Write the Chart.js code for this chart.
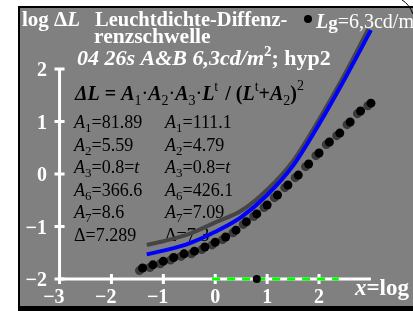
<!DOCTYPE html>
<html>
<head>
<meta charset="utf-8">
<script src="https://cdn.jsdelivr.net/npm/chart.js@4.4.0/dist/chart.umd.min.js"></script>
<style>
html,body{margin:0;padding:0;background:#fff;}
canvas{display:block;}
</style>
</head>
<body>
<canvas id="c" width="413" height="311"></canvas>
<script>
// ---- data ----
const xTicks = [-3, -2, -1, 0, 1, 2];
const yTicks = [-2, -1, 0, 1, 2];
const xTickLabels = ["\u22123", "\u22122", "\u22121", "0", "1", "2"];
const yTickLabels = ["\u22122", "\u22121", "0", "1", "2"];

const dotX = [-1.4,-1.2,-1.0,-0.8,-0.6,-0.4,-0.2,0,0.2,0.4,0.6,0.8,1.0,1.2,1.4,1.6,1.8,2.0,2.2,2.4,2.6,2.8,3.0];
const dotY = [-1.79,-1.73,-1.66,-1.59,-1.52,-1.47,-1.39,-1.30,-1.20,-1.07,-0.91,-0.76,-0.59,-0.40,-0.21,-0.02,0.19,0.40,0.61,0.78,0.99,1.20,1.35];
const shadowX = [-1.46,-1.26,-1.06,-0.86,-0.66,-0.46,-0.26,-0.06,0.14,0.34,0.54,0.74,0.94,1.14,1.34,1.54,1.74,1.94,2.14,2.34,2.54,2.74,2.94];
const shadowY = [-1.84,-1.78,-1.71,-1.64,-1.57,-1.52,-1.44,-1.35,-1.25,-1.12,-0.96,-0.81,-0.64,-0.45,-0.26,-0.07,0.14,0.35,0.56,0.73,0.94,1.15,1.30];

const blueX = [-1.32,-1.0,-0.5,0,0.5,1.0,1.5,2.0,2.5,3.0];
const blueY = [-1.53,-1.46,-1.32,-1.10,-0.82,-0.40,0.16,0.95,1.82,2.74];
const grayX = [-1.32,-1.0,-0.5,0,0.5,1.0,1.5,2.0,2.5,2.95];
const grayY = [-1.35,-1.28,-1.14,-0.92,-0.70,-0.30,0.25,1.04,1.91,2.76];

const refX = [0.8];
const refY = [-2];

const greenFrom = -0.06, greenTo = 2.38;

const paramsLeft = [
  ["A","1","=81.89"],["A","2","=5.59"],["A","3","=0.8=","t"],["A","6","=366.6"],["A","7","=8.6"],["\u0394","","=7.289"]
];
const paramsRight = [
  ["A","1","=111.1"],["A","2","=4.79"],["A","3","=0.8=","t"],["A","6","=426.1"],["A","7","=7.09"],["\u0394","","=7.3"]
];

const pts = (xs, ys) => xs.map((x, i) => ({x, y: ys[i]}));

const SERIF = "'Liberation Serif','Times New Roman',serif";
function F(style, size){ return style + " " + size + "px " + SERIF; }

function runs(ctx, x, y, list, color){
  ctx.textAlign = "left";
  ctx.textBaseline = "alphabetic";
  let cx = x;
  for (const r of list){
    ctx.font = r.f;
    ctx.fillStyle = r.c || color;
    ctx.fillText(r.t, cx, y + (r.dy || 0));
    cx += ctx.measureText(r.t).width + (r.sp || 0);
  }
  return cx;
}

const deco = {
  id: 'deco',
  beforeDraw(chart){
    const ctx = chart.ctx;
    ctx.save();
    ctx.fillStyle = "#ffffff";
    ctx.fillRect(0,0,413,311);
    ctx.fillStyle = "#000000";
    ctx.fillRect(18,6,395,305);
    ctx.fillStyle = "#808080";
    ctx.fillRect(20,8,393,298);
    // corner arc
    ctx.strokeStyle = "#000";
    ctx.lineWidth = 1;
    ctx.beginPath();
    ctx.moveTo(402,0);
    ctx.quadraticCurveTo(409,4,413,14);
    ctx.stroke();
    ctx.restore();
  },
  beforeDatasetsDraw(chart){
    const ctx = chart.ctx;
    const xs = chart.scales.x, ys = chart.scales.y;
    ctx.save();
    // axes
    ctx.strokeStyle = "#ffffff";
    ctx.lineWidth = 3;
    const x0 = xs.getPixelForValue(-3), x1 = xs.getPixelForValue(3);
    const y0 = ys.getPixelForValue(-2), y1 = ys.getPixelForValue(2);
    ctx.beginPath();
    ctx.moveTo(x0, y0); ctx.lineTo(x1, y0);
    ctx.moveTo(x0, y0); ctx.lineTo(x0, y1);
    ctx.stroke();
    ctx.beginPath();
    yTicks.forEach(v => { const p = ys.getPixelForValue(v); ctx.moveTo(x0-5,p); ctx.lineTo(x0+5,p); });
    xTicks.forEach(v => { const p = xs.getPixelForValue(v); ctx.moveTo(p,y0-5); ctx.lineTo(p,y0+5); });
    ctx.stroke();
    // green dashed segment
    ctx.strokeStyle = "#00ff00";
    ctx.setLineDash([8,7]);
    ctx.beginPath();
    ctx.moveTo(xs.getPixelForValue(greenFrom), y0);
    ctx.lineTo(xs.getPixelForValue(greenTo), y0);
    ctx.stroke();
    ctx.setLineDash([]);

    // tick labels
    ctx.fillStyle = "#fff";
    ctx.font = F("bold", 20);
    ctx.textBaseline = "alphabetic";
    ctx.textAlign = "right";
    yTicks.forEach((v,i) => { ctx.fillText(yTickLabels[i], 47, ys.getPixelForValue(v)+7); });
    xTicks.forEach((v,i) => {
      const p = xs.getPixelForValue(v);
      const lab = xTickLabels[i];
      const digit = lab.replace("\u2212","");
      const w = ctx.measureText(digit).width;
      ctx.textAlign = "center";
      ctx.fillText(digit, p, 303);
      if (lab !== digit){ ctx.textAlign = "right"; ctx.fillText("\u2212", p - w/2, 303); }
    });
    // axis title x
    runs(ctx, 355, 295, [
      {t:"x", f:F("italic bold",23)}, {t:"=log ", f:F("bold",23)}, {t:"L", f:F("italic bold",23)}
    ], "#fff");
    // title
    runs(ctx, 22, 26, [{t:"log \u0394", f:F("bold",21)}, {t:"L", f:F("italic bold",21)}], "#fff");
    runs(ctx, 95, 26, [{t:"Leuchtdichte-Diffenz-", f:F("bold",20.5)}], "#fff");
    runs(ctx, 94, 43, [{t:"renzschwelle", f:F("bold",21.5)}], "#fff");
    // legend
    ctx.fillStyle = "#000";
    ctx.beginPath(); ctx.arc(308,19,4,0,Math.PI*2); ctx.fill();
    runs(ctx, 316, 28, [
      {t:"L", f:F("italic bold",20)}, {t:"g", f:F("bold",19), dy:1}, {t:"=6,3cd/m", f:F("normal",20)}
    ], "#fff");
    // line 3
    runs(ctx, 77, 65, [
      {t:"04 26s A&B 6,3cd/m", f:F("italic bold",22)},
      {t:"2", f:F("bold",15), dy:-9},
      {t:"; hyp2", f:F("bold",22)}
    ], "#fff");
    // equation
    const BI = F("italic bold",20), SUB = F("normal",14), R = F("normal",20), B = F("bold",20);
    runs(ctx, 75, 100, [
      {t:"\u0394L", f:BI}, {t:" = ", f:B}, {t:"A", f:BI}, {t:"1", f:SUB, dy:5},
      {t:"\u00b7", f:R}, {t:"A", f:BI}, {t:"2", f:SUB, dy:5},
      {t:"\u00b7", f:R}, {t:"A", f:BI}, {t:"3", f:SUB, dy:5},
      {t:"\u00b7", f:R}, {t:"L", f:BI}, {t:"t", f:SUB, dy:-9, sp:2},
      {t:" / (", f:B}, {t:"L", f:BI}, {t:"t", f:SUB, dy:-9},
      {t:"+", f:B}, {t:"A", f:BI}, {t:"2", f:SUB, dy:5}, {t:")", f:B}, {t:"2", f:SUB, dy:-10}
    ], "#000");
    // parameter table
    const base = [128, 150.5, 173, 195.5, 218, 240.5];
    const drawRow = (x, y, r) => {
      const list = [];
      if (r[0] === "A") list.push({t:"A", f:F("italic",18)}); else list.push({t:r[0], f:F("normal",18)});
      if (r[1]) list.push({t:r[1], f:F("normal",13), dy:4});
      list.push({t:r[2], f:F("normal",18)});
      if (r[3]) list.push({t:r[3], f:F("italic",18)});
      runs(ctx, x, y, list, "#000");
    };
    paramsLeft.forEach((r,i) => drawRow(74, base[i], r));
    paramsRight.forEach((r,i) => drawRow(165, base[i], r));
    ctx.restore();
  }
};

new Chart(document.getElementById('c'), {
  type: 'scatter',
  data: {
    datasets: [
      { data: pts(grayX, grayY), showLine: true, borderColor: '#454545', borderWidth: 4, pointRadius: 0, cubicInterpolationMode: 'monotone', order: 5 },
      { data: pts(blueX, blueY), showLine: true, borderColor: '#0000ff', borderWidth: 4, pointRadius: 0, cubicInterpolationMode: 'monotone', order: 4 },
      { data: pts(shadowX, shadowY), showLine: false, pointRadius: 4.5, pointBackgroundColor: '#3a3a3a', pointBorderWidth: 0, order: 3 },
      { data: pts(dotX, dotY), showLine: false, pointRadius: 4.5, pointBackgroundColor: '#000000', pointBorderWidth: 0, order: 2 },
      { data: pts(refX, refY), showLine: false, pointRadius: 4, pointBackgroundColor: '#000000', pointBorderWidth: 0, order: 1 }
    ]
  },
  options: {
    responsive: false,
    animation: false,
    layout: { padding: { left: 20, top: 8, right: 0, bottom: 5 } },
    scales: {
      x: { type: 'linear', display: false, min: -3.762, max: 3.724 },
      y: { type: 'linear', display: false, min: -2.514, max: 3.162 }
    },
    plugins: { legend: { display: false }, tooltip: { enabled: false } }
  },
  plugins: [deco]
});
</script>
</body>
</html>
